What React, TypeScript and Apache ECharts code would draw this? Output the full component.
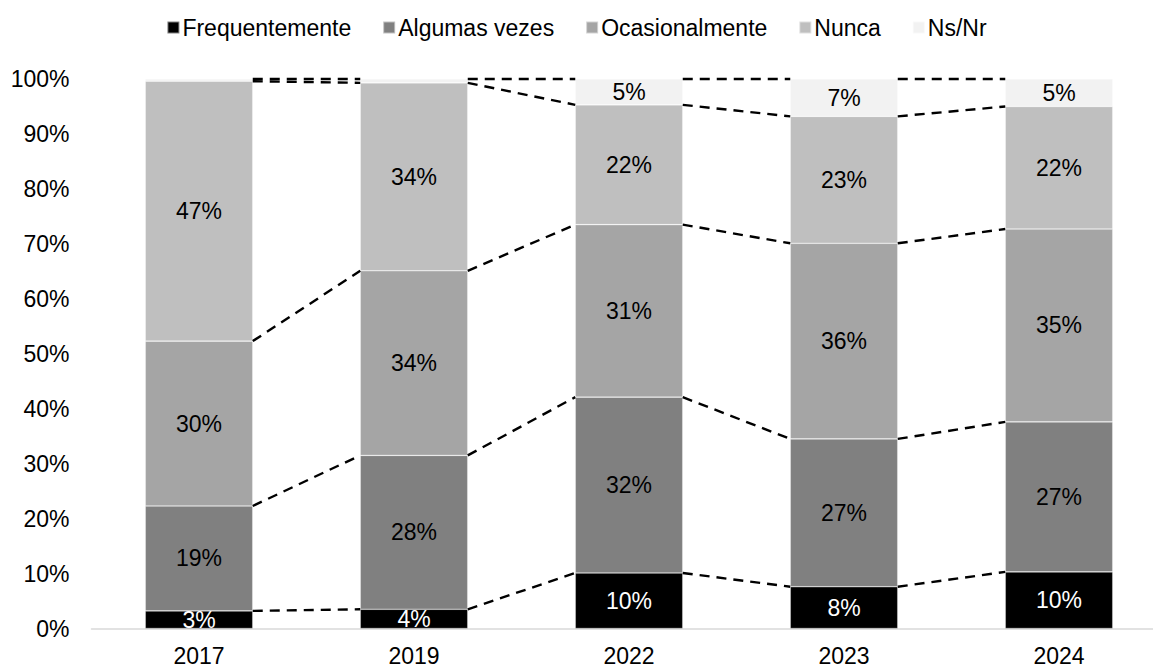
import React, { useEffect, useRef } from "react";
import * as echarts from "echarts";

const categories = ["2017", "2019", "2022", "2023", "2024"];
const seriesNames = ["Frequentemente", "Algumas vezes", "Ocasionalmente", "Nunca", "Ns/Nr"];
const frequentemente = [3.2, 3.5, 10.1, 7.6, 10.3];
const algumasVezes = [19.1, 28.0, 32.0, 26.9, 27.3];
const ocasionalmente = [30.0, 33.6, 31.4, 35.6, 35.1];
const nunca = [47.3, 34.2, 21.8, 23.1, 22.3];
const nsNr = [0.4, 0.7, 4.7, 6.8, 5.0];
const colors = ["#000000", "#808080", "#A5A5A5", "#BFBFBF", "#F2F2F2"];
const labelColors = ["#ffffff", "#000000", "#000000", "#000000", "#000000"];
const yTicks = [0, 10, 20, 30, 40, 50, 60, 70, 80, 90, 100];

const FONT = "'Liberation Sans', Arial, sans-serif";
const FS = 23;

export default function App() {
  const ref = useRef<HTMLDivElement>(null);
  useEffect(() => {
    if (!ref.current) return;
    const chart = echarts.init(ref.current, undefined, { renderer: "svg" });
    const all = [frequentemente, algumasVezes, ocasionalmente, nunca, nsNr];
    const cum: number[][] = all.map((_, k) =>
      categories.map((_, i) => all.slice(0, k + 1).reduce((s, arr) => s + arr[i], 0))
    );
    const lineData: number[][] = [];
    for (let k = 0; k < all.length; k++) {
      for (let i = 0; i < categories.length - 1; i++) {
        lineData.push([i, cum[k][i], cum[k][i + 1]]);
      }
    }
    const barSeries = all.map((arr, k) => ({
      name: seriesNames[k],
      type: "bar",
      stack: "total",
      barWidth: "50%",
      data: arr,
      itemStyle: { color: colors[k], borderColor: "rgba(255,255,255,0.5)", borderWidth: 0.6 },
      label: {
        show: true,
        position: "inside",
        color: labelColors[k],
        fontFamily: FONT,
        fontSize: FS,
        formatter: (p: any) => (p.value < 2 ? "" : Math.round(p.value) + "%"),
      },
    }));
    chart.setOption({
      animation: false,
      textStyle: { fontFamily: FONT },
      legend: {
        data: seriesNames,
        top: 11,
        left: "center",
        icon: "rect",
        itemWidth: 12,
        itemHeight: 12,
        itemGap: 31,
        textStyle: { fontFamily: FONT, fontSize: FS, color: "#000", padding: [0, 0, 0, -2] },
      },
      grid: {
        left: 91.5,
        width: 1075,
        top: 79,
        bottom: 39.5,
        containLabel: false,
        outerBoundsMode: "none",
      },
      xAxis: {
        type: "category",
        data: categories,
        axisLine: { lineStyle: { color: "#D9D9D9", width: 1.5 } },
        axisTick: { show: false },
        axisLabel: { fontFamily: FONT, fontSize: FS, color: "#000", margin: 16 },
      },
      yAxis: {
        type: "value",
        min: 0,
        max: 100,
        interval: 10,
        splitLine: { show: false },
        axisLine: { show: false },
        axisTick: { show: false },
        axisLabel: {
          fontFamily: FONT,
          fontSize: FS,
          color: "#000",
          margin: 22,
          formatter: (v: number) => (yTicks.includes(v) ? v + "%" : ""),
        },
      },
      series: [
        ...barSeries,
        {
          type: "custom",
          name: "seriesLines",
          silent: true,
          z: 10,
          data: lineData,
          encode: { x: 0, y: 1 },
          renderItem: (params: any, api: any) => {
            const i = api.value(0);
            const a = api.value(1);
            const b = api.value(2);
            const p1 = api.coord([i, a]);
            const p2 = api.coord([i + 1, b]);
            const bw = api.size([1, 0])[0];
            const half = bw * 0.25;
            return {
              type: "line",
              shape: { x1: p1[0] + half, y1: p1[1], x2: p2[0] - half, y2: p2[1] },
              style: { stroke: "#000", lineWidth: 2.4, lineDash: [10, 7] },
            };
          },
        },
      ],
    });
    return () => chart.dispose();
  }, []);
  return (
    <div
      ref={ref}
      style={{ position: "absolute", left: 0, top: 0, width: 1153, height: 668, background: "#fff" }}
    />
  );
}
